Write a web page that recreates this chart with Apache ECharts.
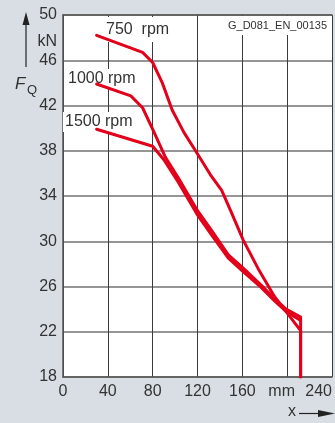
<!DOCTYPE html>
<html>
<head>
<meta charset="utf-8">
<script src="https://cdn.jsdelivr.net/npm/echarts@6/dist/echarts.min.js"></script>
<style>
html,body{margin:0;padding:0;background:#d8dee4;}
#c{width:335px;height:423px;}
</style>
</head>
<body>
<div id="c"></div>
<script>
// ---- data ----
const seriesNames = ['750  rpm', '1000 rpm', '1500 rpm'];
const x750 = [30, 71, 80, 88.6, 97.4, 108, 119.5, 131.4, 141.6, 150.4, 160.8, 174, 188.8, 212, 212];
const y750 = [48.2, 46.7, 45.8, 44.0, 41.6, 39.6, 37.8, 35.9, 34.5, 32.5, 30.1, 27.6, 25.1, 22.1, 18];
const x1000 = [30, 60.5, 71, 81, 91.5, 103.5, 120, 133, 147.5, 161, 177, 189, 199, 212, 212];
const y1000 = [43.9, 42.85, 41.8, 39.7, 37.4, 35.5, 32.7, 30.9, 28.8, 27.6, 26.1, 24.9, 24.0, 23.3, 18];
const x1500 = [30, 80, 90, 103, 119.5, 133, 147.5, 161, 177, 189, 199, 212];
const y1500 = [39.9, 38.4, 37.2, 35.2, 32.4, 30.5, 28.5, 27.3, 25.9, 24.7, 23.8, 23.0];
const xTickMin = 0, xTickMax = 240, xTickStep = 40;
const yTickMin = 18, yTickMax = 50, yTickStep = 4;
const xUnitLabel = 'mm', xUnitAt = 200;
const yUnit = 'kN', yName = 'F', ySub = 'Q', xName = 'x';
const docId = 'G_D081_EN_00135';

function pairs(xs, ys) { return xs.map((x, i) => [x, ys[i]]); }

const RED = '#e3001b';
const TXT = '#333';
const FONT = 'Liberation Sans, Arial, sans-serif';

const chart = echarts.init(document.getElementById('c'), null, {renderer: 'canvas'});
const lineSeries = [pairs(x750, y750), pairs(x1000, y1000), pairs(x1500, y1500)].map((d, i) => ({
  name: seriesNames[i],
  type: 'line',
  data: d,
  showSymbol: false,
  symbol: 'none',
  z: 3,
  lineStyle: {color: RED, width: 3, cap: 'round', join: 'round'},
  animation: false
}));

const labelBox = (text, x, y, pad) => ({
  type: 'text', left: x, top: y, z: 1,
  style: {text: text, fill: TXT, font: '16px ' + FONT, backgroundColor: '#fff', padding: pad}
});

chart.setOption({
  backgroundColor: '#d8dee4',
  animation: false,
  grid: {left: 63, right: 0, top: 15, bottom: 46, show: true, backgroundColor: '#fff', borderWidth: 0},
  xAxis: [{
    type: 'value', min: xTickMin, max: xTickMax, interval: xTickStep,
    axisLine: {show: true, lineStyle: {color: '#555', width: 1.5}},
    axisTick: {show: false},
    axisLabel: {
      color: TXT, fontSize: 16, fontFamily: FONT, margin: 7, alignMaxLabel: 'right',
      formatter: v => v === xUnitAt ? '{mm|' + xUnitLabel + '}' : String(v),
      rich: {mm: {fontSize: 16, fontFamily: FONT, color: TXT, padding: [0, 11, 0, 0]}}
    },
    splitLine: {show: true, lineStyle: {color: '#3a3a3a', width: 1}}
  }, {
    type: 'value', position: 'top', min: xTickMin, max: xTickMax,
    axisLine: {show: true, lineStyle: {color: '#555', width: 1.5}},
    axisTick: {show: false}, axisLabel: {show: false}, splitLine: {show: false}
  }],
  yAxis: {
    type: 'value', min: yTickMin, max: yTickMax, interval: yTickStep,
    axisLine: {show: true, lineStyle: {color: '#555', width: 1.5}},
    axisTick: {show: false},
    axisLabel: {color: TXT, fontSize: 16, fontFamily: FONT, margin: 6},
    splitLine: {show: true, lineStyle: {color: '#727272', width: 1.5}}
  },
  series: lineSeries,
  graphic: [
    labelBox(seriesNames[0], 103, 17, [5, 3, 4, 3]),
    labelBox(seriesNames[1], 66, 69, [2, 2, 2, 2]),
    labelBox(seriesNames[2], 63, 112, [2, 2, 2, 2]),
    {type: 'text', left: 225, top: 16, z: 1,
     style: {text: docId, fill: TXT, font: '11px ' + FONT, backgroundColor: '#fff', padding: [4, 3, 4, 3]}},
    // y axis name
    {type: 'text', right: 335 - 57, top: 34, style: {text: yUnit, fill: TXT, font: '16px ' + FONT}},
    {type: 'text', left: 15, top: 76, style: {text: yName, fill: TXT, font: 'italic 17px ' + FONT}},
    {type: 'text', left: 27, top: 84, style: {text: ySub, fill: TXT, font: '13px ' + FONT}},
    {type: 'line', shape: {x1: 26, y1: 67, x2: 26, y2: 24}, style: {stroke: '#222', lineWidth: 1.2}},
    {type: 'polygon', shape: {points: [[26, 12], [22.5, 25], [29.5, 25]]}, style: {fill: '#222'}},
    // x axis name
    {type: 'text', left: 288, top: 404, style: {text: xName, fill: TXT, font: '16px ' + FONT}},
    {type: 'line', shape: {x1: 299, y1: 413.5, x2: 320, y2: 413.5}, style: {stroke: '#222', lineWidth: 1.2}},
    {type: 'polygon', shape: {points: [[335, 413.5], [318, 410], [318, 417]]}, style: {fill: '#222'}}
  ]
});
</script>
</body>
</html>
